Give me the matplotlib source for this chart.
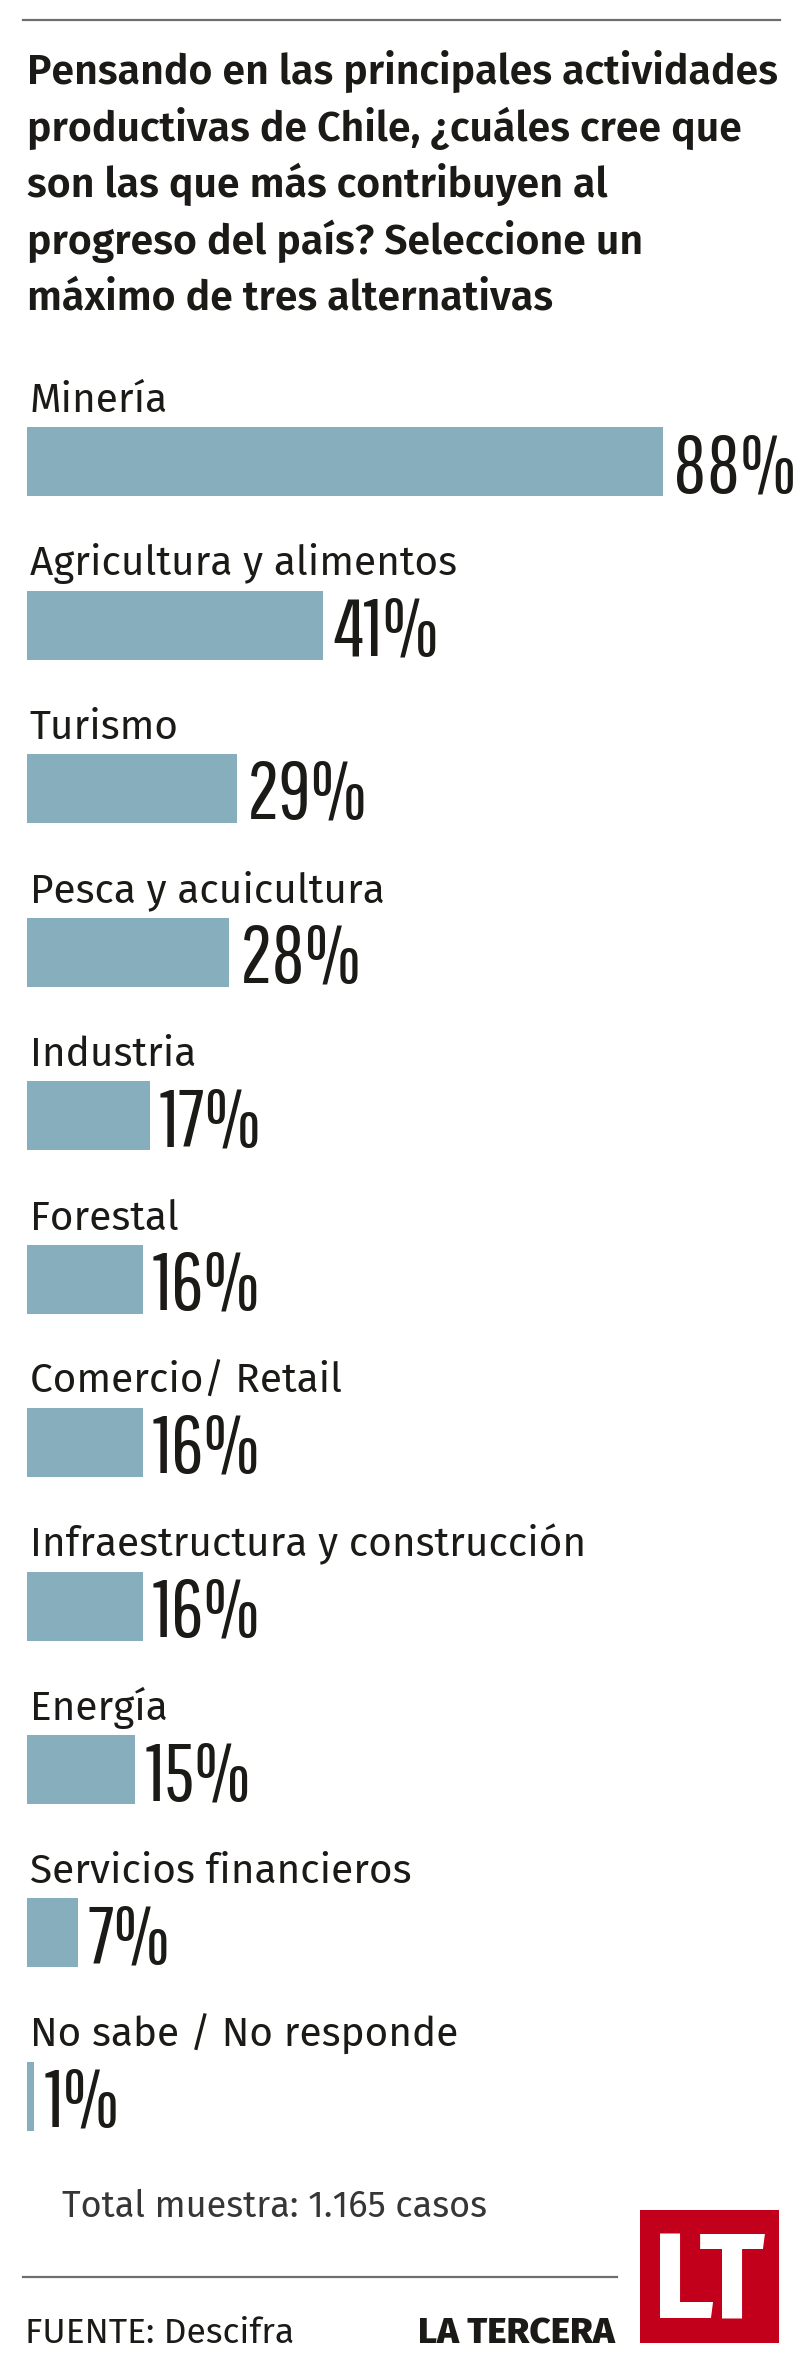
import numpy as np
import matplotlib
matplotlib.use('Agg')
import matplotlib.pyplot as plt
from matplotlib.patches import Rectangle

# survey answers, top to bottom
CATS = ['Minería', 'Agricultura y alimentos', 'Turismo', 'Pesca y acuicultura', 'Industria',
        'Forestal', 'Comercio/ Retail', 'Infraestructura y construcción', 'Energía',
        'Servicios financieros', 'No sabe / No responde']
VALS = [88, 41, 29, 28, 17, 16, 16, 16, 15, 7, 1]
TITLE = ['Pensando en las principales actividades',
         'productivas de Chile, ¿cuáles cree que',
         'son las que más contribuyen al',
         'progreso del país? Seleccione un',
         'máximo de tres alternativas']
NOTE = 'Total muestra: 1.165 casos'
SOURCE = 'FUENTE: Descifra'
BRAND = 'LA TERCERA'

BAR = '#86AEBD'
INK = '#1b1a17'
W, H, DPI = 800, 2370, 100

# font stacks, first installed wins
F_SANS = ['Fira Sans', 'Lato', 'DejaVu Sans']
F_PCT = ['Pathway Gothic One', 'Antonio', 'Oswald', 'Fira Sans Extra Condensed', 'DejaVu Sans']
plt.rcParams['font.family'] = F_SANS

fig = plt.figure(figsize=(W / DPI, H / DPI), dpi=DPI)

# overlay in pixel units for decoration
ov = fig.add_axes([0, 0, 1, 1])
ov.set_xlim(0, W); ov.set_ylim(H, 0); ov.axis('off')

ov.plot([23, 780], [20, 20], color='#6e6e6e', lw=1.6)
for k, line in enumerate(TITLE):
    ov.text(27, 84 + k * 56.5, line, fontsize=29.6, fontweight='semibold', color=INK, va='baseline')

# bar axes: x in percent (7.23 px per point), one row per answer, 163.5 px pitch
px_pct, x0, pitch, top0 = 7.23, 27, 163.5, 427
ax = fig.add_axes([x0 / W, 1 - (top0 + 34.5 + pitch * 10.5) / H, 100 * px_pct / W, pitch * 11 / H])
ax.set_xlim(0, 100); ax.set_ylim(10.5, -0.5); ax.axis('off')
y = np.arange(len(CATS))
bh = 69 / pitch
ax.barh(y, VALS, height=bh, color=BAR, edgecolor='none')
for i, (c, v) in enumerate(zip(CATS, VALS)):
    ax.text(0.4, i - bh / 2 - 15 / pitch, c, fontsize=29.2, color=INK, va='baseline')
    ax.text(v + 10 / px_pct, i + bh / 2 - 4 / pitch, f'{v}%', family=F_PCT, fontweight=200,
            fontsize=58, color=INK, va='baseline')

ov.text(62, 2217, NOTE, fontsize=26, color='#363636', va='baseline')
ov.plot([23, 617], [2277, 2277], color='#6e6e6e', lw=1.6)
ov.text(25, 2343, SOURCE, fontsize=25.5, color=INK, va='baseline')
ov.text(615, 2343, BRAND, fontsize=26.5, fontweight='heavy', color=INK, va='baseline', ha='right')
ov.add_patch(Rectangle((640, 2210), 139, 133, color='#C3001B', lw=0))
ov.text(652, 2318, 'L', fontsize=88, fontweight='bold', color='white', va='baseline', ha='left')
ov.text(732, 2318, 'T', fontsize=88, fontweight='bold', color='white', va='baseline', ha='center')

fig.savefig('out.png', dpi=DPI, facecolor='white')
